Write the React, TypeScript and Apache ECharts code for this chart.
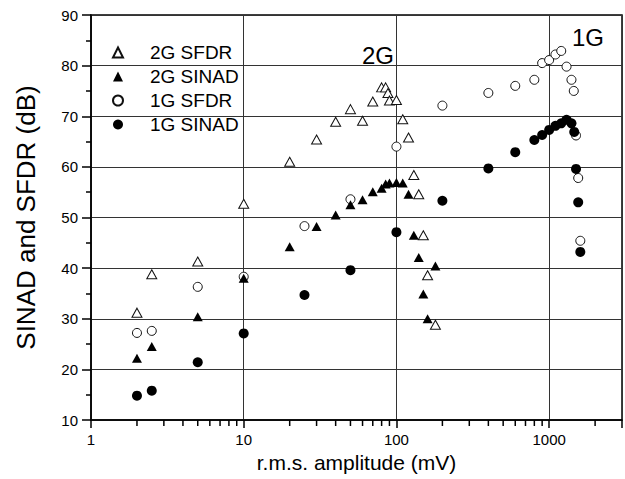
import React, { useEffect, useRef } from 'react';
import * as echarts from 'echarts';

// ---- data ----
const sfdr2gX = [2, 2.5, 5, 10, 20, 30, 40, 50, 60, 70, 80, 85, 88, 90, 100, 110, 120, 130, 140, 150, 160, 180];
const sfdr2gY = [31.2, 38.8, 41.3, 52.7, 61.0, 65.4, 68.9, 71.4, 69.1, 72.9, 75.7, 75.7, 74.6, 73.1, 73.2, 69.4, 65.8, 58.4, 54.6, 46.5, 38.6, 28.8];

const sinad2gX = [2, 2.5, 5, 10, 20, 30, 40, 50, 60, 70, 80, 85, 90, 100, 110, 120, 130, 140, 150, 160, 180];
const sinad2gY = [22.2, 24.5, 30.4, 38.0, 44.2, 48.2, 50.5, 52.5, 53.5, 55.1, 55.8, 56.6, 56.8, 56.9, 56.8, 54.6, 46.5, 42.1, 34.9, 30.0, 40.4];

const sfdr1gX = [2, 2.5, 5, 10, 25, 50, 100, 200, 400, 600, 800, 900, 1000, 1100, 1200, 1300, 1400, 1450, 1500, 1550, 1600];
const sfdr1gY = [27.2, 27.6, 36.3, 38.3, 48.3, 53.6, 64.0, 72.1, 74.6, 76.0, 77.2, 80.5, 81.1, 82.2, 82.9, 79.8, 77.2, 75.0, 66.2, 57.8, 45.4];

const sinad1gX = [2, 2.5, 5, 10, 25, 50, 100, 200, 400, 600, 800, 900, 1000, 1100, 1200, 1300, 1400, 1460, 1500, 1550, 1600];
const sinad1gY = [14.8, 15.8, 21.4, 27.1, 34.7, 39.6, 47.1, 53.3, 59.7, 62.9, 65.3, 66.3, 67.3, 68.1, 68.6, 69.3, 68.6, 66.9, 59.6, 53.0, 43.2];

const legendNames = ['2G SFDR', '2G SINAD', '1G SFDR', '1G SINAD'];
const xMinorTicks = [2, 3, 4, 5, 6, 7, 8, 9, 20, 30, 40, 50, 60, 70, 80, 90, 200, 300, 400, 500, 600, 700, 800, 900, 2000];
const xMin = 1;
const xMax = 3000;
const yMin = 10;
const yMax = 90;
const yStep = 10;
const xTitle = 'r.m.s. amplitude (mV)';
const yTitle = 'SINAD and SFDR (dB)';

const zip = (xs: number[], ys: number[]) => xs.map((x, i) => [x, ys[i]]);

export default function App() {
  const ref = useRef<HTMLDivElement>(null);

  useEffect(() => {
    if (!ref.current) return;
    const chart = echarts.init(ref.current, null, { renderer: 'svg' });
    const font = '"Liberation Sans", Arial, Helvetica, sans-serif';
    const openStyle = { color: '#ffffff', borderColor: '#111111', borderWidth: 1, opacity: 1 };
    const filledStyle = { color: '#000000', borderColor: '#000000', borderWidth: 0, opacity: 1 };

    chart.setOption({
      animation: false,
      backgroundColor: '#ffffff',
      grid: {
        left: 91,
        right: 1,
        top: 15,
        bottom: 59,
        show: true,
        borderColor: '#000',
        borderWidth: 1.5,
        backgroundColor: 'transparent',
      },
      xAxis: {
        type: 'log',
        logBase: 10,
        min: xMin,
        max: xMax,
        name: xTitle,
        nameLocation: 'middle',
        nameGap: 31,
        nameTextStyle: { fontFamily: font, fontSize: 21, color: '#000' },
        axisLine: { show: true, onZero: false, lineStyle: { color: '#000', width: 1.5 } },
        axisTick: { show: true, inside: false, length: 8, lineStyle: { color: '#000', width: 1.5 } },
        axisLabel: {
          margin: 12,
          fontFamily: font,
          fontSize: 15,
          color: '#000',
          formatter: (v: number) => {
            const l = Math.log10(v);
            return Math.abs(l - Math.round(l)) < 1e-6 ? String(Math.round(v)) : '';
          },
        },
        splitLine: { show: true, lineStyle: { color: '#333', width: 1 } },
      },
      yAxis: {
        type: 'value',
        min: yMin,
        max: yMax,
        interval: yStep,
        name: yTitle,
        nameLocation: 'middle',
        nameGap: 52,
        nameTextStyle: { fontFamily: font, fontSize: 26, color: '#000' },
        axisLine: { show: true, onZero: false, lineStyle: { color: '#000', width: 1.5 } },
        axisTick: { show: true, inside: false, length: 9, lineStyle: { color: '#000', width: 1.5 } },
        minorTick: { show: true, splitNumber: 2, length: 5, lineStyle: { color: '#000', width: 1.5 } },
        axisLabel: { margin: 13, fontFamily: font, fontSize: 15, color: '#000' },
        splitLine: { show: true, lineStyle: { color: '#333', width: 1 } },
      },
      legend: {
        orient: 'vertical',
        left: 112,
        top: 43,
        padding: 0,
        itemGap: 5,
        itemWidth: 10,
        itemHeight: 10,
        selectedMode: false,
        data: legendNames,
        textStyle: { fontFamily: font, fontSize: 19, color: '#000', padding: [0, 0, 0, 22] },
      },
      graphic: [
        {
          type: 'text',
          x: 362,
          y: 55,
          style: { text: '2G', fontFamily: font, fontSize: 24, fill: '#000', verticalAlign: 'middle' },
        },
        {
          type: 'text',
          x: 572,
          y: 37,
          style: { text: '1G', fontFamily: font, fontSize: 24, fill: '#000', verticalAlign: 'middle' },
        },
      ],
      series: [
        {
          name: '2G SFDR',
          type: 'scatter',
          symbol: 'triangle',
          symbolSize: [10, 9],
          itemStyle: openStyle,
          z: 2,
          data: zip(sfdr2gX, sfdr2gY),
        },
        {
          name: '2G SINAD',
          type: 'scatter',
          symbol: 'triangle',
          symbolSize: [10, 9],
          itemStyle: filledStyle,
          z: 3,
          data: zip(sinad2gX, sinad2gY),
        },
        {
          name: '1G SFDR',
          type: 'scatter',
          symbol: 'circle',
          symbolSize: 9,
          itemStyle: openStyle,
          z: 2,
          data: zip(sfdr1gX, sfdr1gY),
        },
        {
          name: '1G SINAD',
          type: 'scatter',
          symbol: 'circle',
          symbolSize: 10,
          itemStyle: filledStyle,
          z: 3,
          data: zip(sinad1gX, sinad1gY),
        },
        {
          name: 'x minor ticks',
          type: 'scatter',
          silent: true,
          clip: false,
          z: 4,
          symbol: 'rect',
          symbolSize: [1.5, 6],
          symbolOffset: [0, 3],
          itemStyle: { color: '#000', opacity: 1 },
          data: xMinorTicks.map((v) => [v, yMin]),
        },
      ],
    });

    return () => chart.dispose();
  }, []);

  return (
    <div
      ref={ref}
      style={{ position: 'fixed', left: 0, top: 0, width: 625, height: 479, background: '#fff' }}
    />
  );
}
